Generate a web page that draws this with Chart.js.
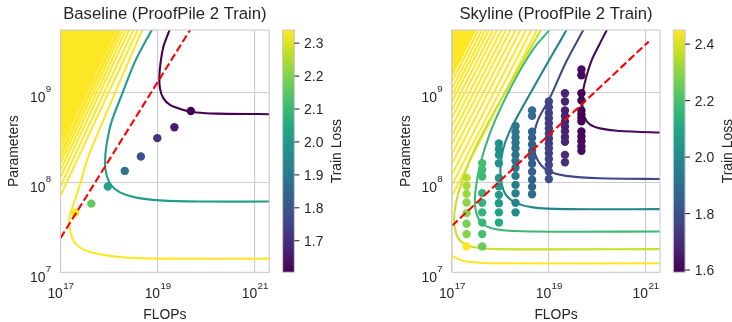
<!DOCTYPE html>
<html>
<head>
<meta charset="utf-8">
<script src="https://cdn.jsdelivr.net/npm/chart.js@4.4.0/dist/chart.umd.min.js"></script>
<style>
  body { margin: 0; background: #fff; }
  #wrap { position: relative; width: 732px; height: 322px; }
  canvas { position: absolute; top: 0; }
</style>
</head>
<body>
<div id="wrap">
  <canvas id="base" width="366" height="322" style="left:0"></canvas>
  <canvas id="sky" width="366" height="322" style="left:366px"></canvas>
</div>
<script>
// shared axes
const xTickVals = [1e17, 1e19, 1e21];
const yTickVals = [1e7, 1e8, 1e9];
const xRange = [1e17, 1.97e21];
const yRange = [1e7, 4.94e9];

// ---------- Baseline (left) ----------
const baseFlops  = [2.0e17, 4.3e17, 9.4e17, 2.1e18, 4.5e18, 9.8e18, 2.2e19, 4.8e19];
const baseParams = [4.6e7, 5.8e7, 9.0e7, 1.34e8, 1.94e8, 3.1e8, 4.1e8, 6.2e8];
const baseLoss   = [2.34, 2.16, 2.03, 1.88, 1.79, 1.71, 1.66, 1.604];
const baseCbarRange = [1.604, 2.34];
const baseCbarTicks = [1.7, 1.8, 1.9, 2.0, 2.1, 2.2, 2.3];
const baseLevels = [2.34, 2.01, 1.605];
const baseCurves = [
  [[2.5e21,1.42e7],[1.41e19,1.42e7],[1.82e18,1.47e7],[3.73e17,1.70e7],[1.99e17,2.11e7],[1.62e17,2.73e7],
   [1.50e17,3.52e7],[1.57e17,4.35e7],[1.83e17,5.62e7],[2.32e17,8.26e7],[2.94e17,1.26e8],[3.73e17,1.94e8],
   [1.32e18,9.87e8],[4.82e18,4.95e9],[5.89e18,6.4e9]],
  [[2.5e21,6.12e7],[7.4e19,6.12e7],[1.11e19,6.3e7],[3.41e18,6.81e7],[1.67e18,7.74e7],[1.09e18,9.38e7],
   [8.85e17,1.21e8],[8.24e17,1.65e8],[8.85e17,2.61e8],[1.12e18,4.7e8],[1.82e18,9.38e8],[3.41e18,2.2e9],
   [7.53e18,4.95e9],[9.7e18,6.4e9]],
  [[2.5e21,5.72e8],[1.64e20,5.81e8],[6.34e19,5.97e8],[3.37e19,6.39e8],[1.79e19,7.26e8],[1.30e19,8.63e8],
   [1.11e19,1.11e9],[1.08e19,1.5e9],[1.14e19,2.11e9],[1.31e19,3.23e9],[1.75e19,4.95e9],[1.97e19,6.07e9]]
];
// high-loss contours crowding the upper-left corner: where each meets the top and the left edge
const baseFanTop  = [3.87e18, 3.15e18, 2.57e18, 2.2e18, 1.89e18, 1.67e18, 1.52e18];
const baseFanLeft = [7.08e7, 9.03e7, 1.14e8, 1.37e8, 1.63e8, 1.87e8, 2.09e8];
const baseFanFill = [1.39e18, 2.34e8];
const baseOptimal = [[1e17, 2.4e7], [6.22e19, 6.4e9]];

// ---------- Skyline (right) ----------
const skyFlops = [2.0e17, 4.2e17, 9.3e17, 2.05e18, 4.5e18, 1.0e19, 2.15e19, 4.7e19];
const skyParams = [
  [1.13e8, 9.14e7, 7.45e7, 5.97e7, 4.55e7, 3.46e7, 2.66e7, 1.94e7],
  [1.63e8, 1.38e8, 1.16e8, 7.59e7, 5.92e7, 4.64e7, 3.57e7, 2.66e7, 1.94e7],
  [2.71e8, 2.35e8, 2.02e8, 1.63e8, 1.12e8, 9.03e7, 7.26e7, 5.87e7, 4.64e7, 3.57e7],
  [4.24e8, 3.64e8, 3.16e8, 2.75e8, 2.39e8, 2.02e8, 1.73e8, 1.45e8, 1.18e8, 9.38e7, 7.55e7, 5.92e7, 4.64e7],
  [6.31e8, 5.48e8, 3.66e8, 3.12e8, 2.64e8, 2.24e8, 1.9e8, 1.61e8, 1.31e8, 1.07e8, 8.91e7, 7.36e7],
  [7.91e8, 6.85e8, 5.92e8, 5.16e8, 4.53e8, 3.98e8, 3.5e8, 3.08e8, 2.71e8, 2.39e8, 2.1e8, 1.82e8, 1.56e8, 1.32e8, 1.09e8],
  [9.8e8, 7.91e8, 6.31e8, 5.48e8, 4.76e8, 4.19e8, 3.69e8, 3.2e8, 2.82e8, 2.02e8, 1.67e8],
  [1.8e9, 1.55e9, 9.8e8, 8.15e8, 6.31e8, 5.7e8, 5.21e8, 4.76e8, 3.69e8, 3.24e8, 2.86e8, 2.51e8, 2.24e8]
];
const skyLoss = [
  [2.36, 2.34, 2.32, 2.30, 2.29, 2.28, 2.29, 2.45],
  [2.19, 2.18, 2.17, 2.15, 2.15, 2.15, 2.16, 2.19, 2.25],
  [2.02, 2.02, 2.02, 2.03, 2.04, 2.05, 2.06, 2.07, 2.09, 2.11],
  [1.93, 1.92, 1.92, 1.92, 1.92, 1.92, 1.93, 1.93, 1.94, 1.95, 1.96, 1.98, 2.00],
  [1.90, 1.89, 1.86, 1.85, 1.85, 1.85, 1.85, 1.85, 1.85, 1.86, 1.87, 1.88],
  [1.77, 1.76, 1.75, 1.75, 1.74, 1.74, 1.74, 1.74, 1.74, 1.75, 1.75, 1.76, 1.77, 1.78, 1.80],
  [1.68, 1.67, 1.67, 1.67, 1.67, 1.67, 1.67, 1.68, 1.68, 1.70, 1.71],
  [1.62, 1.61, 1.60, 1.60, 1.595, 1.60, 1.60, 1.60, 1.61, 1.61, 1.61, 1.62, 1.62]
];
const skyCbarRange = [1.592, 2.45];
const skyCbarTicks = [1.6, 1.8, 2.0, 2.2, 2.4];
const skyLevels = [2.5, 2.38, 2.17, 1.98, 1.78, 1.615];
const skyCurves = [
  [[2.5e21,1.26e7],[9.44e17,1.26e7],[1.94e17,1.32e7],[1.21e17,1.44e7],[1e17,1.53e7],[6.9e16,1.69e7]],
  [[2.5e21,1.81e7],[9.44e17,1.81e7],[2.67e17,1.91e7],[1.53e17,2.2e7],[1.21e17,2.73e7],[1.11e17,3.83e7],
   [1.17e17,5.38e7],[1.42e17,8.26e7],[1.94e17,1.38e8],[3.13e17,2.5e8],[6.68e17,5.48e8],[1.57e18,1.24e9],
   [6.84e18,4.94e9],[9.1e18,6.4e9]],
  [[2.5e21,2.84e7],[4.61e18,2.84e7],[9.44e17,2.97e7],[4.57e17,3.37e7],[3.36e17,4.17e7],[2.98e17,5.87e7],
   [3.13e17,8.98e7],[3.87e17,1.63e8],[6.08e17,3.52e8],[1.13e18,7.59e8],[2.35e18,1.63e9],[5.14e18,3.2e9],
   [1.02e19,4.94e9],[1.33e19,6.4e9]],
  [[2.5e21,5.04e7],[2.24e19,5.04e7],[4.68e18,5.27e7],[2.09e18,5.92e7],[1.3e18,7.26e7],[1.05e18,9.87e7],
   [1e18,1.45e8],[1.13e18,2.3e8],[1.5e18,3.55e8],[2.52e18,6.07e8],[4.91e18,1.15e9],[9.1e18,2.07e9],
   [1.69e19,3.67e9],[2.3e19,4.94e9],[2.98e19,6.56e9]],
  [[2.5e21,1.09e8],[1.13e20,1.11e8],[2.24e19,1.18e8],[1.05e19,1.31e8],[6.84e18,1.56e8],[5.27e18,2.02e8],
   [4.68e18,2.82e8],[5.14e18,3.83e8],[6.22e18,5.21e8],[1.05e19,8.69e8],[2.24e19,2.15e9],[5.14e19,4.94e9],
   [6.68e19,6.4e9]],
  [[2.5e21,3.57e8],[2.8e20,3.73e8],[1.13e20,3.98e8],[7.0e19,4.41e8],[5.4e19,5.34e8],[4.91e19,7.26e8],
   [5.09e19,1.04e9],[6.08e19,1.56e9],[7.71e19,2.3e9],[1.09e20,3.37e9],[1.57e20,4.94e9],[1.99e20,6.4e9]]
];
const skyFanTop  = [5.66e18, 4.36e18, 3.36e18, 2.58e18, 2.04e18, 1.61e18, 1.3e18, 1.05e18, 8.47e17, 7.0e17, 5.79e17, 4.91e17, 4.16e17, 3.52e17];
const skyFanLeft = [7.11e7, 9.38e7, 1.23e8, 1.62e8, 2.08e8, 2.68e8, 3.34e8, 4.19e8, 5.24e8, 6.39e8, 7.84e8, 9.31e8, 1.11e9, 1.32e9];
const skyFanFill = [3.13e17, 1.49e9];
const skyOptimal = [[1e17, 3.29e7], [1.15e21, 3.67e9]];

// ---------- styling helpers ----------
const FONT = '"Liberation Sans", Arial, sans-serif';
const INK = '#262626';
const EDGE = '#cccccc';
const VIRIDIS = ['#440154','#482475','#414487','#355f8d','#2a788e','#21918c','#22a884','#44bf70','#7ad151','#bddf26','#fde725'];

function hexRgb(h) { return [1, 3, 5].map(i => parseInt(h.substr(i, 2), 16)); }
function viridis(v, range) {
  let t = (v - range[0]) / (range[1] - range[0]);
  t = Math.max(0, Math.min(1, t));
  const f = t * 10, i = Math.min(9, Math.floor(f)), u = f - i;
  const a = hexRgb(VIRIDIS[i]), b = hexRgb(VIRIDIS[i + 1]);
  return 'rgb(' + a.map((c, k) => Math.round(c + (b[k] - c) * u)).join(',') + ')';
}
const pts = arr => arr.map(([x, y]) => ({ x, y }));

function drawPow(ctx, exp, x, y, align) {
  ctx.font = '13.9px ' + FONT;
  const wb = ctx.measureText('10').width;
  ctx.font = '9.7px ' + FONT;
  const we = ctx.measureText(String(exp)).width;
  const x0 = align === 'center' ? x - (wb + we) / 2 : x - (wb + we);
  ctx.font = '13.9px ' + FONT;
  ctx.fillText('10', x0, y);
  ctx.font = '9.7px ' + FONT;
  ctx.fillText(String(exp), x0 + wb + 0.3, y - 9.4);
}

const decor = {
  id: 'decor',
  afterDatasetsDraw(chart) {
    const a = chart.chartArea, ctx = chart.ctx;
    ctx.save();
    ctx.strokeStyle = EDGE; ctx.lineWidth = 1.1;
    ctx.strokeRect(a.left, a.top, a.right - a.left, a.bottom - a.top);
    ctx.restore();
  },
  afterDraw(chart, args, o) {
    const a = chart.chartArea, ctx = chart.ctx;
    const xs = chart.scales.x, ys = chart.scales.y;
    ctx.save();
    ctx.fillStyle = INK;
    ctx.textBaseline = 'alphabetic';
    // title
    ctx.font = '16.7px ' + FONT; ctx.textAlign = 'center';
    ctx.fillText(o.title, (a.left + a.right) / 2, a.top - 11);
    // tick labels
    ctx.textAlign = 'left';
    xTickVals.forEach(v => drawPow(ctx, Math.round(Math.log10(v)), xs.getPixelForValue(v), a.bottom + 26, 'center'));
    yTickVals.forEach(v => drawPow(ctx, Math.round(Math.log10(v)), a.left - 9.7, ys.getPixelForValue(v) + 9.2, 'right'));
    // axis labels
    ctx.font = '13.9px ' + FONT; ctx.textAlign = 'center';
    ctx.fillText('FLOPs', (a.left + a.right) / 2, a.bottom + 46.7);
    ctx.save();
    ctx.translate(a.left - 42.3, (a.top + a.bottom) / 2);
    ctx.rotate(-Math.PI / 2);
    ctx.fillText('Parameters', 0, 0);
    ctx.restore();
    // colorbar
    const bx = a.right + 13.3, bw = 11.8, top = a.top, bot = a.bottom;
    const g = ctx.createLinearGradient(0, bot, 0, top);
    VIRIDIS.forEach((c, i) => g.addColorStop(i / 10, c));
    ctx.fillStyle = g;
    ctx.fillRect(bx, top, bw, bot - top);
    ctx.strokeStyle = EDGE; ctx.lineWidth = 1.1;
    ctx.strokeRect(bx, top, bw, bot - top);
    ctx.strokeStyle = INK; ctx.fillStyle = INK;
    ctx.font = '13.9px ' + FONT; ctx.textAlign = 'left';
    const [lo, hi] = o.cbarRange;
    o.cbarTicks.forEach(v => {
      const y = bot - (v - lo) / (hi - lo) * (bot - top);
      ctx.beginPath(); ctx.moveTo(bx + bw, y); ctx.lineTo(bx + bw + 4.9, y); ctx.stroke();
      ctx.fillText(v.toFixed(1), bx + bw + 9.7, y + 5);
    });
    ctx.save();
    ctx.translate(bx + bw + 47, (top + bot) / 2);
    ctx.rotate(-Math.PI / 2);
    ctx.textAlign = 'center';
    ctx.fillText('Train Loss', 0, 0);
    ctx.restore();
    ctx.restore();
  }
};

function makePanel(id, p) {
  const yTop = yRange[1];
  const datasets = [];
  datasets.push({
    data: pts(p.optimal), showLine: true, borderColor: '#ff0000', borderWidth: 2.1,
    borderDash: [7.7, 3.3], pointRadius: 0, tension: 0, order: 0, clip: 0
  });
  const sx = [], sc = [];
  p.flops.forEach((c, i) => {
    const ns = Array.isArray(p.params[i]) ? p.params[i] : [p.params[i]];
    const ls = Array.isArray(p.loss[i]) ? p.loss[i] : [p.loss[i]];
    ns.forEach((n, k) => { sx.push({ x: c, y: n }); sc.push(viridis(ls[k], p.cbarRange)); });
  });
  datasets.push({
    data: sx, pointRadius: 4.2, pointBackgroundColor: sc, pointBorderWidth: 0,
    showLine: false, order: 1, clip: 0
  });
  p.curves.forEach((c, i) => datasets.push({
    data: pts(c), showLine: true, borderColor: viridis(p.levels[i], p.cbarRange), borderWidth: 2.1,
    pointRadius: 0, tension: 0.3, order: 2, clip: 0
  }));
  const yellow = viridis(99, p.cbarRange);
  p.fanTop.forEach((c, i) => datasets.push({
    data: [{ x: xRange[0], y: p.fanLeft[i] }, { x: c, y: yTop }], showLine: true,
    borderColor: yellow, borderWidth: 2.0, pointRadius: 0, tension: 0, order: 3, clip: 0
  }));
  datasets.push({
    data: [{ x: xRange[0], y: yTop }, { x: xRange[0], y: p.fanFill[1] }, { x: p.fanFill[0], y: yTop }],
    showLine: true, fill: 'shape', backgroundColor: yellow, borderColor: yellow, borderWidth: 1,
    pointRadius: 0, tension: 0, order: 4, clip: 0
  });

  const axisBase = {
    type: 'logarithmic',
    ticks: { display: false },
    grid: { color: EDGE, lineWidth: 1.1, drawTicks: false },
    border: { display: false },
    title: { display: false }
  };
  new Chart(document.getElementById(id), {
    type: 'scatter',
    data: { datasets },
    options: {
      responsive: false, animation: false, devicePixelRatio: 1, events: [],
      layout: { padding: p.pad },
      elements: { line: { capBezierPoints: false } },
      plugins: {
        legend: { display: false }, tooltip: { enabled: false },
        decor: { title: p.title, cbarRange: p.cbarRange, cbarTicks: p.cbarTicks }
      },
      scales: {
        x: Object.assign({}, axisBase, {
          min: xRange[0], max: xRange[1],
          afterBuildTicks: s => { s.ticks = xTickVals.map(v => ({ value: v })); },
          afterFit: s => { s.height = 0; }
        }),
        y: Object.assign({}, axisBase, {
          min: yRange[0], max: yRange[1],
          afterBuildTicks: s => { s.ticks = yTickVals.map(v => ({ value: v })); },
          afterFit: s => { s.width = 0; }
        })
      }
    },
    plugins: [decor]
  });
}

makePanel('base', {
  title: 'Baseline (ProofPile 2 Train)',
  flops: baseFlops, params: baseParams, loss: baseLoss,
  curves: baseCurves, levels: baseLevels,
  fanTop: baseFanTop, fanLeft: baseFanLeft, fanFill: baseFanFill,
  optimal: baseOptimal, cbarRange: baseCbarRange, cbarTicks: baseCbarTicks,
  pad: { left: 60.5, right: 96.7, top: 30, bottom: 49.7 }
});
makePanel('sky', {
  title: 'Skyline (ProofPile 2 Train)',
  flops: skyFlops, params: skyParams, loss: skyLoss,
  curves: skyCurves, levels: skyLevels,
  fanTop: skyFanTop, fanLeft: skyFanLeft, fanFill: skyFanFill,
  optimal: skyOptimal, cbarRange: skyCbarRange, cbarTicks: skyCbarTicks,
  pad: { left: 86, right: 72, top: 30, bottom: 49.7 }
});
</script>
</body>
</html>
